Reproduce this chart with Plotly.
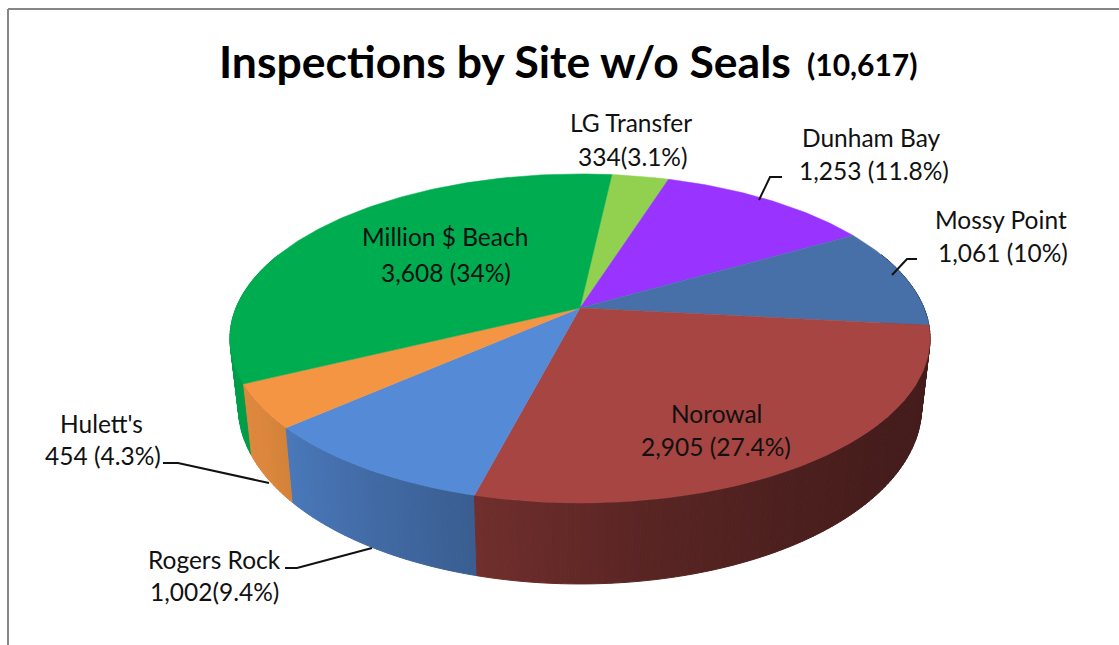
import numpy as np
import plotly.graph_objects as go

# ---- data ----
sites = ["LG Transfer", "Dunham Bay", "Mossy Point", "Norowal", "Rogers Rock", "Hulett's", "Million $ Beach"]
inspections = [334, 1253, 1061, 2905, 1002, 454, 3608]
value_labels = ["334(3.1%)", "1,253 (11.8%)", "1,061 (10%)", "2,905 (27.4%)", "1,002(9.4%)", "454 (4.3%)", "3,608 (34%)"]
top_colors = ["#92D050", "#9933FF", "#4870A8", "#A64542", "#558AD6", "#F39543", "#00AC50"]
title_main = "Inspections by Site w/o Seals"
title_total = "(10,617)"

# ---- label placement (pixel space), centre of each line ----
name_pos = [(631, 122), (871, 137), (1001, 219), (716, 413), (214, 559), (101, 423), (445, 236)]
value_pos = [(633, 156), (874, 170), (1003, 252), (716, 446), (214, 591), (103, 455), (446, 272)]
leaders = [
    None,
    [(782, 177), (770, 177), (759, 200)],
    [(917, 259), (907, 259), (892, 275)],
    None,
    [(285, 568), (297, 568), (372, 548)],
    [(163, 463), (178, 463), (269, 483)],
    None,
]

# ---- projection of the 3D pie ----
CX, CY = 580.0, 308.0
RX, RY, K = 344.0, 158.9, 0.185
DEPTH, BOTTOM_SCALE = 66.0, 0.976
START = 6.3


def top_pt(theta):
    t = np.radians(theta)
    u, v = np.sin(t), np.cos(t)
    w = 1 + K * v
    return CX + RX * u / w, CY - RY * v / w


def bottom_pt(theta):
    x, y = top_pt(theta)
    v = np.cos(np.radians(theta))
    return CX + (x - CX) * BOTTOM_SCALE, y + DEPTH / (1 + K * v)


shade_t = [0, 96, 125, 150, 172, 195, 215, 235, 250, 300, 360]
shade_f = [0.40, 0.40, 0.41, 0.46, 0.54, 0.68, 0.80, 0.90, 0.92, 0.93, 0.40]


def shade(hex_color, theta):
    f = float(np.interp(theta % 360, shade_t, shade_f))
    r, g, b = (int(hex_color[i:i + 2], 16) for i in (1, 3, 5))
    return f"rgb({r * f:.0f},{g * f:.0f},{b * f:.0f})"


angles = 360 * np.array(inspections) / sum(inspections)
edges = START + np.concatenate([[0], np.cumsum(angles)])

fig = go.Figure()
common = dict(mode="lines", hoverinfo="skip", showlegend=False)

# side walls, farthest first
walls = []
for i, col in enumerate(top_colors):
    a, b = edges[i], edges[i + 1]
    n = max(2, int(np.ceil(b - a)))
    ts = np.linspace(a, b, n + 1)
    for t0, t1 in zip(ts[:-1], ts[1:]):
        mid = (t0 + t1) / 2
        if np.cos(np.radians(mid)) < 0.35:
            walls.append((np.cos(np.radians(mid)), t0, t1, col))
walls.sort(key=lambda r: -r[0])
for _, t0, t1, col in walls:
    p = [top_pt(t0), top_pt(t1), bottom_pt(t1), bottom_pt(t0), top_pt(t0)]
    c = shade(col, (t0 + t1) / 2)
    fig.add_trace(go.Scatter(x=[q[0] for q in p], y=[q[1] for q in p], fill="toself",
                             fillcolor=c, line=dict(color=c, width=1), **common))

# top wedges
for i, col in enumerate(top_colors):
    ts = np.linspace(edges[i], edges[i + 1], max(4, int(angles[i])))
    pts = [top_pt(t) for t in ts]
    xs = [CX] + [q[0] for q in pts] + [CX]
    ys = [CY] + [q[1] for q in pts] + [CY]
    fig.add_trace(go.Scatter(x=xs, y=ys, fill="toself", fillcolor=col,
                             line=dict(color=col, width=0.5), **common))

# leader lines
for seg in leaders:
    if seg:
        fig.add_trace(go.Scatter(x=[q[0] for q in seg], y=[q[1] for q in seg],
                                 line=dict(color="#111111", width=2), **common))

FONT = "Lato, Carlito, Calibri, sans-serif"
notes = []
for s, v, p1, p2 in zip(sites, value_labels, name_pos, value_pos):
    for txt, pos in ((s, p1), (v, p2)):
        notes.append(dict(x=pos[0], y=pos[1], text=txt, showarrow=False, xanchor="center", yanchor="middle",
                          font=dict(family=FONT, size=24.5, color="#111111")))
notes.append(dict(x=793, y=60, text=f"<b>{title_main}</b>", showarrow=False, xanchor="right", yanchor="middle",
                  font=dict(family=FONT, size=44.5, color="#000000")))
notes.append(dict(x=805, y=64, text=f"<b>{title_total}</b>", showarrow=False, xanchor="left", yanchor="middle",
                  font=dict(family=FONT, size=30, color="#000000")))

frame = dict(color="#868686", width=2)
fig.update_layout(
    width=1119, height=645, margin=dict(l=0, r=0, t=0, b=0),
    paper_bgcolor="white", plot_bgcolor="white", showlegend=False,
    xaxis=dict(range=[0, 1119], visible=False, fixedrange=True),
    yaxis=dict(range=[645, 0], visible=False, fixedrange=True),
    annotations=notes,
    shapes=[
        dict(type="line", x0=8, x1=8, y0=9, y1=645, line=frame),
        dict(type="line", x0=8, x1=1119, y0=9, y1=9, line=frame),
    ],
)
fig.write_html("out.html", config={"displayModeBar": False},
               post_script="document.body.style.margin='0';document.body.style.overflow='hidden';")
